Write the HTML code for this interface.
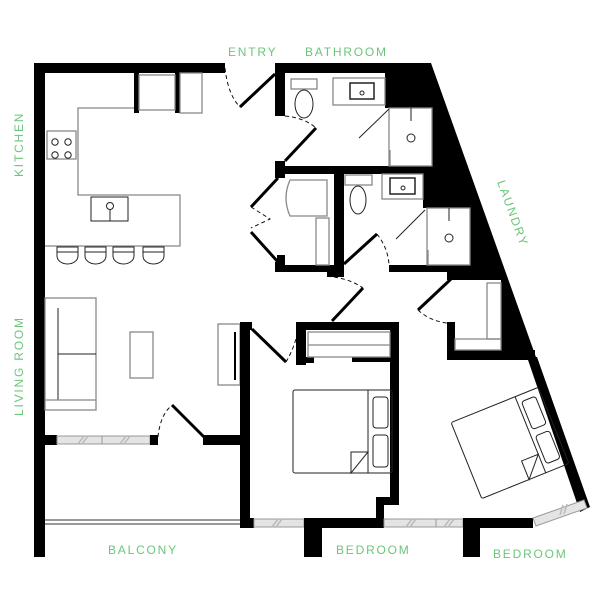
<!DOCTYPE html>
<html><head><meta charset="utf-8"><style>
html,body{margin:0;padding:0;background:#fff;}
svg{display:block;}
.t{font-family:"Liberation Sans",sans-serif;font-size:12px;fill:#6cc57a;letter-spacing:1.8px;}
.g{fill:none;stroke:#888;stroke-width:1.3;}
.k{fill:none;stroke:#222;stroke-width:1;}
.d{fill:none;stroke:#111;stroke-width:1;stroke-dasharray:4,3;}
.lf{stroke:#000;stroke-width:3;}
.w{fill:#e4e4e4;stroke:#999;stroke-width:1;}
</style></head><body>
<svg width="605" height="605" viewBox="0 0 605 605" xmlns="http://www.w3.org/2000/svg">
<rect width="605" height="605" fill="#fff"/>
<!-- labels -->
<text class="t" x="228" y="56">ENTRY</text>
<text class="t" x="305" y="56">BATHROOM</text>
<text class="t" transform="translate(23,177) rotate(-90)">KITCHEN</text>
<text class="t" transform="translate(23,416) rotate(-90)">LIVING ROOM</text>
<text class="t" transform="translate(497,182) rotate(70)">LAUNDRY</text>
<text class="t" x="108" y="554">BALCONY</text>
<text class="t" x="336" y="554">BEDROOM</text>
<text class="t" x="493" y="558">BEDROOM</text>

<!-- outer walls left/top -->
<rect x="34" y="63" width="11" height="494" fill="#000"/>
<rect x="34" y="63" width="191" height="10" fill="#000"/>
<rect x="134" y="73" width="5" height="40" fill="#000"/>
<rect x="175" y="73" width="5" height="40" fill="#000"/>
<rect x="139" y="75" width="36" height="35" class="g"/>
<rect x="180" y="73" width="22" height="40" class="g"/>
<!-- kitchen counter -->
<path d="M134 108 H78 V195 H180 V246 H45" class="g"/>
<rect x="47" y="131" width="29" height="28" class="g"/>
<circle cx="55" cy="142" r="3.2" class="k"/><circle cx="68" cy="142" r="3.2" class="k"/>
<circle cx="55" cy="155" r="3.2" class="k"/><circle cx="68" cy="155" r="3.2" class="k"/>
<rect x="91" y="197" width="37" height="24" class="k"/>
<circle cx="110" cy="206" r="3.5" class="k"/><line x1="110" y1="210" x2="110" y2="221" class="k"/>
<g class="k">
<path d="M57 247 V256 A10.5 8 0 0 0 78 256 V247 Z M57 252 H78"/>
<path d="M85 247 V256 A10.5 8 0 0 0 106 256 V247 Z M85 252 H106"/>
<path d="M113 247 V256 A10.5 8 0 0 0 134 256 V247 Z M113 252 H134"/>
<path d="M143 247 V256 A10.5 8 0 0 0 164 256 V247 Z M143 252 H164"/>
</g>
<!-- entry door -->
<path d="M225 68 Q228 95 240 107" class="d"/>
<line x1="240" y1="107" x2="275" y2="74" class="lf"/>

<!-- bathroom block -->
<polygon points="275,63 431,63 537,360 447,360 447,272 275,272" fill="#000"/>
<rect x="285" y="73" width="100" height="88" fill="#fff"/>
<rect x="285" y="116" width="20" height="45" fill="#fff"/>
<rect x="275" y="116" width="12" height="45" fill="#fff"/>
<rect x="385" y="108" width="47" height="58" fill="#fff"/>
<rect x="285" y="161" width="100" height="5" fill="#fff"/>
<rect x="344" y="174" width="79" height="91" fill="#fff"/>
<rect x="423" y="208" width="47" height="57" fill="#fff"/>
<rect x="344" y="262" width="45" height="10" fill="#fff"/>
<rect x="285" y="174" width="49" height="91" fill="#fff"/>
<rect x="270" y="178" width="15" height="84" fill="#fff"/>
<rect x="455" y="280" width="46" height="70" fill="#fff"/>
<rect x="285" y="272" width="162" height="88" fill="#fff"/>
<rect x="447" y="280" width="8" height="42" fill="#fff"/>
<rect x="327" y="265" width="17" height="12" fill="#000"/>
<rect x="447" y="272" width="8" height="8" fill="#000"/>
<rect x="447" y="322" width="8" height="38" fill="#000"/>
<rect x="447" y="350" width="88" height="10" fill="#000"/>
<rect x="277" y="161" width="8" height="15" fill="#000"/>
<rect x="277" y="255" width="8" height="17" fill="#000"/>
<!-- upper bath fixtures -->
<rect x="291" y="79" width="26" height="10" class="g"/>
<ellipse cx="304" cy="104" rx="9" ry="14" class="k"/>
<rect x="333" y="78" width="52" height="27" class="g"/>
<rect x="350" y="83" width="24" height="16" class="k" style="stroke-width:1.5"/>
<circle cx="362" cy="93" r="2" class="k"/>
<rect x="389" y="108" width="43" height="58" class="g"/>
<line x1="411" y1="108" x2="411" y2="121" class="k"/>
<circle cx="411" cy="138" r="4" class="k"/>
<line x1="389" y1="109" x2="359" y2="138" class="k"/>
<line x1="390" y1="150" x2="390" y2="166" class="g"/>
<!-- upper bath door -->
<path d="M285 116 Q305 118 316 128" class="d"/>
<line x1="285" y1="161" x2="316" y2="128" class="lf"/>
<!-- wardrobe -->
<path d="M290 180 H327 V216 H290 Q282 198 290 180 Z" class="g"/>
<rect x="316" y="218" width="13" height="47" class="g"/>
<line x1="278" y1="178" x2="251" y2="207" class="lf"/>
<line x1="251" y1="232" x2="278" y2="262" class="lf"/>
<path d="M251 207 L270 219 L251 228" class="d"/>
<!-- lower bath fixtures -->
<rect x="345" y="175" width="27" height="10" class="g"/>
<ellipse cx="358" cy="200" rx="8" ry="14" class="k"/>
<rect x="382" y="174" width="41" height="25" class="g"/>
<rect x="390" y="178" width="25" height="16" class="k" style="stroke-width:1.5"/>
<circle cx="403" cy="188" r="2" class="k"/>
<rect x="427" y="208" width="43" height="57" class="g"/>
<line x1="449" y1="208" x2="449" y2="221" class="k"/>
<circle cx="449" cy="238" r="4" class="k"/>
<line x1="425" y1="210" x2="396" y2="239" class="k"/>
<line x1="428" y1="250" x2="428" y2="265" class="g"/>
<path d="M377 234 Q388 248 389 265" class="d"/>
<line x1="344" y1="264" x2="377" y2="234" class="lf"/>
<!-- hallway door -->
<path d="M334 277 Q352 280 363 288" class="d"/>
<line x1="363" y1="288" x2="332" y2="321" class="lf"/>
<!-- laundry -->
<rect x="487" y="283" width="14" height="56" class="g"/>
<rect x="455" y="339" width="46" height="11" class="g"/>
<line x1="451" y1="279" x2="418" y2="310" class="lf"/>
<path d="M418 310 Q430 321 447 323" class="d"/>
<!-- diagonal lower wall -->
<polygon points="527,357 537,357 590,507 580,512" fill="#000"/>

<!-- living -->
<rect x="45" y="298" width="51" height="112" class="g"/>
<line x1="58" y1="308" x2="58" y2="400" class="k"/>
<line x1="58" y1="354" x2="96" y2="354" class="k"/>
<line x1="45" y1="400" x2="96" y2="400" class="g"/>
<rect x="130" y="332" width="23" height="46" class="g"/>
<rect x="218" y="324" width="22" height="61" class="g"/>
<line x1="235" y1="332" x2="235" y2="380" stroke="#000" stroke-width="2"/>
<!-- living bottom wall -->
<rect x="34" y="435" width="23" height="10" fill="#000"/>
<rect x="57" y="436" width="93" height="8" class="w"/>
<line x1="102" y1="436" x2="102" y2="444" stroke="#999"/>
<path d="M78 444 L84 436 M82 444 L88 436 M120 444 L126 436 M124 444 L130 436" stroke="#bbb" stroke-width="1.5"/>
<rect x="150" y="435" width="8" height="10" fill="#000"/>
<path d="M158 437 Q160 416 171 406" class="d"/>
<line x1="172" y1="405" x2="204" y2="437" class="lf"/>
<rect x="203" y="435" width="45" height="10" fill="#000"/>
<!-- balcony -->
<line x1="45" y1="520" x2="240" y2="520" stroke="#333" stroke-width="1"/>
<line x1="45" y1="524" x2="240" y2="524" stroke="#333" stroke-width="1"/>
<!-- bedroom 1 -->
<rect x="240" y="322" width="10" height="206" fill="#000"/>
<rect x="240" y="322" width="12" height="8" fill="#000"/>
<line x1="252" y1="329" x2="286" y2="362" class="lf"/>
<path d="M286 362 Q296 345 299 325" class="d"/>
<rect x="296" y="322" width="102" height="8" fill="#000"/>
<rect x="296" y="322" width="10" height="43" fill="#000"/>
<rect x="306" y="357" width="8" height="6" fill="#000"/>
<rect x="352" y="357" width="40" height="5" fill="#000"/>
<rect x="390" y="322" width="9" height="183" fill="#000"/>
<rect x="376" y="497" width="23" height="8" fill="#000"/>
<rect x="376" y="497" width="8" height="23" fill="#000"/>
<rect x="308" y="332" width="82" height="25" class="g"/>
<line x1="308" y1="345" x2="390" y2="345" class="g"/>
<!-- bed 1 -->
<rect x="293" y="390" width="99" height="83" rx="2" class="k"/>
<line x1="368" y1="390" x2="368" y2="473" class="k"/>
<rect x="373" y="397" width="15" height="31" rx="3" class="k"/>
<rect x="373" y="435" width="15" height="32" rx="3" class="k"/>
<path d="M351 473 V452 H368 Z" class="k"/>
<!-- bottom walls -->
<rect x="240" y="518" width="14" height="10" fill="#000"/>
<rect x="254" y="519" width="50" height="8" class="w"/>
<path d="M272 527 L278 519 M276 527 L282 519" stroke="#bbb" stroke-width="1.5"/>
<rect x="304" y="518" width="80" height="10" fill="#000"/>
<rect x="304" y="518" width="18" height="39" fill="#000"/>
<rect x="384" y="519" width="79" height="8" class="w"/>
<line x1="436" y1="519" x2="436" y2="527" stroke="#999"/>
<path d="M406 527 L412 519 M410 527 L416 519 M444 527 L450 519 M448 527 L454 519" stroke="#bbb" stroke-width="1.5"/>
<rect x="463" y="518" width="70" height="10" fill="#000"/>
<rect x="463" y="518" width="17" height="39" fill="#000"/>
<polygon points="533,518 584,500 587,508 536,526" class="w"/>
<path d="M560 515 L563 505 M564 514 L567 504" stroke="#bbb" stroke-width="1.5"/>
<!-- bed 2 -->
<g transform="translate(510,443) rotate(-22)">
<rect x="-47" y="-41" width="94" height="82" rx="2" class="k"/>
<line x1="22" y1="-41" x2="22" y2="41" class="k"/>
<rect x="26" y="-34" width="15" height="30" rx="3" class="k"/>
<rect x="26" y="3" width="15" height="30" rx="3" class="k"/>
<path d="M4 41 V21 H22 Z" class="k"/>
</g>
</svg>
</body></html>
